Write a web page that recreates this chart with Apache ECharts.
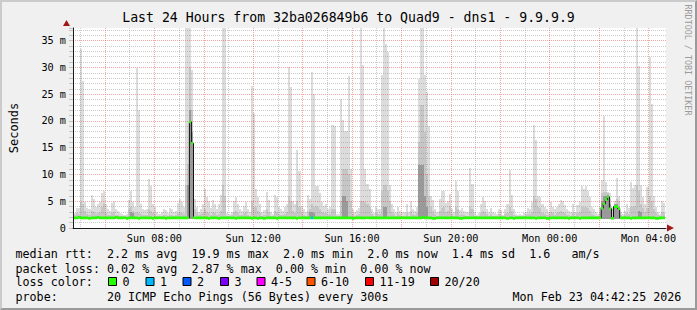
<!DOCTYPE html>
<html>
<head>
<meta charset="utf-8">
<script src="https://cdn.jsdelivr.net/npm/echarts@6/dist/echarts.min.js"></script>
<style>
html,body{margin:0;padding:0;background:#f0f0f0;}
#wrap{position:relative;width:697px;height:310px;overflow:hidden;}
#chart{position:absolute;left:0;top:0;width:697px;height:310px;}
#frame{position:absolute;left:0;top:0;width:697px;height:310px;box-sizing:border-box;border-style:solid;border-width:2px;border-color:#cbcbcb #9a9a9a #9a9a9a #cbcbcb;pointer-events:none;}
</style>
</head>
<body>
<div id="wrap"><div id="chart"></div><div id="frame"></div></div>
<script>
// ---------------- data (hours since Sun 00:00; values in ms) ----------------
const START_H = 4 + 42/60 + 25/3600;      // Sun 04:42:25
const END_H = START_H + 24;               // Mon 04:42:25
const BIN0_H = 4.75;                       // first 5-minute step, Sun 04:45
const BIN_H = 5/60;                        // 300 s step
const Y_MAX = 37.36;
const SMOKE_MIN = 1.75;

const X_LABEL_HOURS = [8, 12, 16, 20, 24, 28];
const X_LABELS = ['Sun 08:00', 'Sun 12:00', 'Sun 16:00', 'Sun 20:00', 'Mon 00:00', 'Mon 04:00'];
const GRID_HOURS = [5,6,7,8,9,10,11,12,13,14,15,16,17,18,19,20,21,22,23,24,25,26,27,28];

// max ping of each step (outer smoke)
const MAX_RTT = [
 2.8, 3.7, 3.7, 33.4, 27.4, 4.8, 3.7, 3.5, 6.1, 5.5, 4.0, 4.5,
 4.8, 6.5, 7.0, 4.5, 3.5, 3.2, 4.6, 5.0, 3.5, 3.2, 2.8, 2.6,
 2.5, 2.7, 5.2, 6.9, 4.8, 4.0, 29.9, 22.0, 4.4, 3.6, 3.3, 3.5,
 9.1, 7.8, 4.5, 4.0, 3.0, 2.6, 2.9, 3.5, 3.4, 2.8, 3.7, 3.5,
 3.0, 3.2, 4.6, 5.5, 4.8, 4.0, 37.4, 37.4, 37.4, 29.5, 5.5, 4.0,
 3.0, 3.5, 4.5, 7.3, 5.8, 5.0, 3.8, 5.2, 4.5, 3.6, 4.4, 6.2,
 37.4, 37.4, 2.8, 2.6, 3.0, 5.0, 5.7, 4.5, 3.6, 3.2, 4.2, 4.8,
 3.5, 3.0, 26.6, 21.5, 7.3, 5.8, 4.5, 3.0, 3.4, 6.7, 5.2, 3.0,
 2.7, 6.1, 5.7, 3.9, 3.5, 3.2, 4.0, 4.5, 30.1, 26.3, 5.0, 4.5,
 14.5, 10.6, 4.2, 3.5, 3.0, 6.1, 5.5, 29.1, 25.1, 7.9, 7.9, 6.5,
 4.8, 4.2, 4.5, 3.5, 4.0, 19.3, 19.0, 2.6, 2.7, 24.1, 20.1, 18.2,
 18.2, 28.4, 11.0, 3.6, 3.0, 3.4, 3.8, 37.4, 30.4, 11.0, 8.3, 7.2,
 3.5, 2.8, 4.0, 3.5, 3.5, 28.6, 37.4, 34.3, 32.9, 8.0, 4.5, 3.5,
 3.0, 4.0, 3.2, 3.0, 3.0, 4.5, 3.0, 5.0, 3.5, 3.2, 4.0, 27.9,
 37.4, 37.4, 28.5, 25.4, 19.0, 6.0, 5.2, 3.5, 3.0, 5.5, 6.9, 7.0,
 4.6, 5.0, 6.4, 3.5, 3.0, 8.7, 7.0, 3.4, 3.8, 3.2, 3.0, 3.0,
 11.2, 8.3, 2.9, 2.5, 2.8, 4.5, 5.8, 5.0, 3.5, 3.0, 3.7, 3.0,
 2.8, 2.6, 3.6, 3.4, 2.5, 3.5, 4.5, 10.8, 6.2, 3.5, 2.6, 2.5,
 2.6, 2.5, 2.8, 3.0, 3.7, 3.6, 4.8, 19.3, 16.5, 6.0, 5.8, 4.5,
 3.9, 3.5, 3.0, 4.8, 4.0, 3.5, 4.0, 4.5, 5.2, 5.0, 4.3, 3.5,
 3.2, 3.0, 4.5, 3.0, 4.3, 4.8, 7.9, 7.2, 7.8, 7.0, 5.8, 3.9,
 3.5, 3.0, 2.6, 4.0, 8.9, 21.0, 8.5, 6.7, 6.5, 4.0, 5.0, 9.3,
 6.0, 3.0, 2.6, 3.2, 4.5, 3.8, 8.6, 7.5, 8.0, 37.4, 30.3, 8.0,
 5.8, 4.5, 7.6, 31.9, 23.2, 6.0, 4.0, 3.0, 2.6, 5.1, 4.6
];

// inner smoke band (most pings below this)
const MID_RTT = [
 2.4, 2.8, 2.6, 4.8, 4.5, 3.2, 2.6, 2.5, 3.2, 3.0, 2.6, 2.8,
 3.0, 4.0, 4.7, 2.8, 2.5, 2.4, 2.8, 3.0, 2.5, 2.4, 2.3, 2.3,
 2.2, 2.3, 3.5, 4.0, 3.2, 2.8, 3.0, 2.8, 2.6, 2.5, 2.4, 2.4,
 3.5, 3.2, 2.8, 2.6, 2.3, 2.2, 2.3, 2.5, 2.5, 2.3, 2.5, 2.5,
 2.3, 2.4, 2.8, 3.0, 2.8, 2.6, 8.0, 12.0, 30.0, 22.0, 3.5, 2.8,
 2.4, 2.6, 2.8, 3.5, 3.0, 2.8, 2.5, 3.0, 2.8, 2.5, 2.7, 3.2,
 8.0, 6.0, 2.3, 2.2, 2.4, 3.0, 3.2, 2.8, 2.5, 2.4, 2.8, 3.0,
 2.5, 2.3, 5.0, 4.0, 4.0, 3.2, 2.8, 2.3, 2.5, 3.5, 3.0, 2.3,
 2.2, 3.2, 3.0, 2.6, 2.5, 2.4, 2.6, 3.0, 6.0, 5.0, 3.2, 2.8,
 5.0, 4.0, 2.8, 2.5, 2.3, 3.2, 3.5, 4.5, 4.0, 4.2, 4.0, 3.5,
 3.0, 2.8, 2.8, 2.5, 2.6, 3.5, 3.5, 2.2, 2.2, 5.0, 11.0, 11.0,
 11.0, 10.0, 5.0, 2.6, 2.3, 2.5, 2.6, 5.0, 5.0, 4.8, 4.5, 4.0,
 2.6, 2.3, 2.8, 2.6, 2.6, 7.0, 8.0, 8.0, 7.0, 5.0, 3.0, 2.6,
 2.3, 2.8, 2.4, 2.3, 2.3, 2.8, 2.3, 3.2, 2.6, 2.4, 2.8, 16.0,
 22.9, 22.9, 18.0, 10.0, 6.0, 4.0, 3.2, 2.6, 2.3, 3.2, 3.8, 4.0,
 3.0, 3.2, 4.2, 2.6, 2.3, 4.0, 3.5, 2.5, 2.7, 2.4, 2.3, 2.3,
 4.0, 3.5, 2.3, 2.2, 2.3, 2.8, 3.2, 3.0, 2.6, 2.3, 2.7, 2.3,
 2.3, 2.2, 2.6, 2.5, 2.2, 2.6, 2.8, 4.0, 3.2, 2.5, 2.2, 2.2,
 2.2, 2.2, 2.3, 2.4, 2.7, 2.6, 3.0, 6.0, 5.5, 4.0, 3.8, 2.8,
 2.7, 2.5, 2.4, 3.0, 2.8, 2.5, 2.8, 3.0, 3.2, 3.0, 2.8, 2.5,
 2.4, 2.3, 2.8, 2.3, 2.8, 3.0, 4.0, 4.0, 4.0, 3.8, 3.2, 2.7,
 2.5, 2.3, 2.2, 3.0, 6.5, 6.7, 6.7, 6.5, 5.5, 3.5, 4.5, 5.5,
 5.0, 2.4, 2.2, 2.4, 2.8, 2.6, 4.0, 4.0, 4.2, 8.0, 7.0, 4.5,
 3.8, 3.0, 3.8, 6.0, 5.0, 3.5, 2.8, 2.4, 2.2, 3.0, 2.8
];

// dense core of the smoke (0 = none)
const CORE_RTT = [
 0,0,0,0,0,0,0,0,0,0,0,0,
 0,0,0,0,0,0,0,0,0,0,0,0,
 0,0,0,3.0,2.8,0,0,0,0,0,0,0,
 0,0,0,0,0,0,0,0,0,0,0,0,
 0,0,0,0,0,0,0,8.0,22.0,18.0,0,0,
 0,0,0,0,0,0,0,0,0,0,0,0,
 0,0,0,0,0,0,0,0,0,0,0,0,
 0,0,0,0,0,0,0,0,0,0,0,0,
 0,0,0,0,0,0,0,0,0,0,0,0,
 0,0,0,0,0,0,3.0,3.0,2.8,0,0,0,
 0,0,0,0,0,0,0,0,0,0,6.0,6.0,
 5.0,0,0,0,0,0,0,0,0,0,0,0,
 0,0,0,0,0,0,4.0,4.0,0,0,0,0,
 0,0,0,0,0,0,0,0,0,0,0,11.7,
 11.7,11.7,6.0,4.0,0,0,0,0,0,0,0,0,
 0,0,0,0,0,0,0,0,0,0,0,0,
 0,0,0,0,0,0,0,0,0,0,0,0,
 0,0,0,0,0,0,0,0,0,0,0,0,
 0,0,0,0,0,0,0,0,0,0,0,0,
 0,0,0,0,0,0,0,0,0,0,0,0,
 0,0,0,0,0,0,0,0,0,0,0,0,
 0,0,0,0,5.0,6.0,6.0,6.2,4.5,0,4.5,4.5,
 4.0,0,0,0,0,0,0,0,0,0,3.2,3.0,
 0,0,0,0,0,0,0,0,0,0,0
];

// median rtt of each step
const MEDIAN_RTT = [
 1.9,1.9,2.0,1.9,1.9,1.9,1.9,1.8,1.9,1.9,1.9,2.0,
 1.9,1.9,1.9,1.9,1.9,1.9,1.9,1.9,2.0,1.9,1.9,1.9,
 1.9,1.8,1.9,1.9,1.9,1.9,1.9,1.8,1.9,1.9,1.9,1.9,
 1.9,1.9,1.8,1.9,1.9,1.9,1.9,1.9,1.8,1.9,1.9,1.9,
 1.9,1.9,1.9,1.9,1.9,1.9,1.9,1.9,19.8,15.8,1.9,1.9,
 1.9,1.9,1.9,1.9,1.9,1.8,1.9,1.9,1.9,1.9,1.8,1.9,
 1.9,1.9,1.9,1.9,1.9,1.9,1.8,1.9,1.9,1.9,1.9,1.9,
 1.9,1.9,1.8,1.9,1.9,1.8,1.9,1.9,1.8,1.9,1.9,1.9,
 1.9,1.9,1.8,1.9,1.9,1.9,1.9,1.9,1.9,1.9,1.9,1.9,
 1.8,1.9,1.9,1.9,1.9,1.9,1.9,1.9,1.9,1.9,1.9,1.9,
 1.9,1.9,1.9,1.9,1.9,1.9,1.9,1.9,1.9,1.9,1.9,1.9,
 1.9,1.9,1.9,1.8,1.9,1.9,1.9,1.9,1.9,1.9,1.9,1.9,
 1.9,1.9,1.9,1.9,1.9,1.9,1.9,1.9,1.9,1.9,1.9,1.9,
 1.9,1.9,1.9,1.9,1.9,1.9,1.9,1.9,1.9,1.9,1.9,1.9,
 1.9,2.0,1.9,1.9,1.9,1.9,1.8,1.8,1.9,1.9,1.9,1.9,
 1.9,1.9,1.9,1.9,1.9,1.9,1.9,1.8,1.8,1.9,1.9,1.9,
 1.9,1.9,1.9,1.9,1.9,1.9,1.9,1.9,1.9,1.9,1.9,1.9,
 1.9,1.9,1.9,1.9,1.9,1.9,1.8,1.9,1.9,1.8,1.9,1.9,
 1.9,1.9,1.9,1.9,1.9,1.9,1.9,1.9,1.8,1.9,1.9,1.9,
 1.9,1.8,1.8,1.9,1.9,1.9,1.9,1.9,1.9,1.9,1.9,1.9,
 1.8,1.9,1.9,1.9,1.9,1.8,1.9,1.9,1.9,1.9,1.9,1.9,
 1.9,1.9,1.9,1.9,3.7,4.5,5.3,5.8,3.6,1.8,4.0,4.0,
 3.6,1.9,1.9,1.9,1.9,1.9,1.8,1.9,1.9,1.9,1.9,1.9,
 1.9,1.9,1.9,1.9,1.9,1.9,1.8,1.8,1.9,1.9,1.9
];

// steps with lost pings: step index and number of lost pings
const LOSS_STEP = [115];
const LOSS_PINGS = [1];

// loss colour legend
const LOSS_LABELS = ['0', '1', '2', '3', '4-5', '6-10', '11-19', '20/20'];
const LOSS_MAXPINGS = [0, 1, 2, 3, 5, 10, 19, 20];
const LOSS_COLORS = ['#26ff00', '#00b8ff', '#0059ff', '#7e00ff', '#ff00ff', '#ff5500', '#ff0000', '#a10000'];

const LEGEND_RTT = 'median rtt:  2.2 ms avg  19.9 ms max  2.0 ms min  2.0 ms now  1.4 ms sd  1.6   am/s';
const LEGEND_LOSS = 'packet loss: 0.02 % avg  2.87 % max  0.00 % min  0.00 % now';
const LEGEND_PROBE = 'probe:       20 ICMP Echo Pings (56 Bytes) every 300s';
const STAMP = 'Mon Feb 23 04:42:25 2026';
const TITLE = 'Last 24 Hours from 32ba026849b6 to Quad9 - dns1 - 9.9.9.9';

// ---------------- styles ----------------
const FONT = '"DejaVu Sans Mono", monospace';
const GRID_MINOR = 'rgba(140,140,140,0.45)';
const GRID_MAJOR = 'rgba(235,40,40,0.42)';
const AXIS_COLOR = '#1a1a1a';
const ARROW_COLOR = '#a01818';
const SMOKE_SHADES = ['#dcdcdc', '#c6c6c6', '#9a9a9a'];

// ---------------- build ----------------
const N = MAX_RTT.length;
const stepStart = j => BIN0_H + j * BIN_H;
const smokeData = MAX_RTT.map((m, j) => [stepStart(j), SMOKE_MIN, m, MID_RTT[j], CORE_RTT[j]]);
const lossOf = j => { const k = LOSS_STEP.indexOf(j); return k < 0 ? 0 : LOSS_PINGS[k]; };
const lossColor = n => { for (let k = 0; k < LOSS_MAXPINGS.length; k++) if (n <= LOSS_MAXPINGS[k]) return LOSS_COLORS[k]; return LOSS_COLORS[LOSS_COLORS.length - 1]; };
const medianData = MEDIAN_RTT.map((m, j) => [stepStart(j), m, lossOf(j)]);
const medianLine = MEDIAN_RTT.map((m, j) => [stepStart(j), m]).concat([[stepStart(N), MEDIAN_RTT[N - 1]]]);

function smokeItem(params, api) {
  const t0 = api.value(0), t1 = t0 + BIN_H, lo = api.value(1);
  const kids = [];
  for (let k = 0; k < 3; k++) {
    const hi = Math.min(api.value(2 + k), Y_MAX);
    if (!(hi > lo)) continue;
    const a = api.coord([t0, hi]), b = api.coord([t1, lo]);
    const x0 = Math.round(a[0]), x1 = Math.round(b[0]);
    const y0 = Math.round(a[1]), y1 = Math.round(b[1]);
    kids.push({type: 'rect', shape: {x: x0, y: y0, width: x1 - x0, height: y1 - y0}, style: {fill: SMOKE_SHADES[k]}});
  }
  return {type: 'group', children: kids};
}
function medianItem(params, api) {
  const t0 = api.value(0), t1 = t0 + BIN_H;
  const a = api.coord([t0, api.value(1)]), b = api.coord([t1, api.value(1)]);
  const x0 = Math.round(a[0]), x1 = Math.round(b[0]);
  return {type: 'rect', shape: {x: x0, y: a[1] - 1.3, width: x1 - x0, height: 2.6}, style: {fill: lossColor(api.value(2))}};
}

const gfx = [];
const LEG_X = 15.5;
gfx.push({type: 'text', x: LEG_X, y: 254, style: {text: LEGEND_RTT, font: '11.7px ' + FONT, fill: '#000', verticalAlign: 'middle'}});
gfx.push({type: 'text', x: LEG_X, y: 268.5, style: {text: LEGEND_LOSS, font: '11.7px ' + FONT, fill: '#000', verticalAlign: 'middle'}});
gfx.push({type: 'text', x: LEG_X, y: 282.3, style: {text: 'loss color:', font: '11.7px ' + FONT, fill: '#000', verticalAlign: 'middle'}});
gfx.push({type: 'text', x: LEG_X, y: 296.6, style: {text: LEGEND_PROBE, font: '11.7px ' + FONT, fill: '#000', verticalAlign: 'middle'}});
gfx.push({type: 'text', x: 512.5, y: 296.6, style: {text: STAMP, font: '11.7px ' + FONT, fill: '#000', verticalAlign: 'middle'}});
const SWATCH_X = [108, 145.5, 182.5, 220, 256.5, 306.5, 365, 430];
LOSS_LABELS.forEach((lab, k) => {
  gfx.push({type: 'rect', shape: {x: SWATCH_X[k] + 0.5, y: 277.5, width: 8, height: 8}, style: {fill: LOSS_COLORS[k], stroke: '#000', lineWidth: 1}});
  gfx.push({type: 'text', x: SWATCH_X[k] + 14.5, y: 282.3, style: {text: lab, font: '11.7px ' + FONT, fill: '#000', verticalAlign: 'middle'}});
});
gfx.push({type: 'text', x: 688, y: 60, rotation: -Math.PI / 2, style: {text: 'RRDTOOL / TOBI OETIKER', font: '8.4px ' + FONT, fill: '#9a9a9a', align: 'center', verticalAlign: 'middle'}});
gfx.push({type: 'polygon', shape: {points: [[63, 26], [70, 26], [66.5, 20]]}, style: {fill: ARROW_COLOR}});
gfx.push({type: 'polygon', shape: {points: [[667, 224.5], [667, 231.5], [674, 228]]}, style: {fill: ARROW_COLOR}});

const chart = echarts.init(document.getElementById('chart'), null, {renderer: 'svg', width: 697, height: 310});
chart.setOption({
  animation: false,
  backgroundColor: '#f0f0f0',
  title: {text: TITLE, left: 'center', top: 11, padding: 0, textStyle: {fontFamily: FONT, fontSize: 13.2, fontWeight: 'normal', color: '#000'}},
  grid: {left: 66, top: 28, width: 600, height: 200, show: true, backgroundColor: '#ffffff', borderWidth: 0, containLabel: false},
  xAxis: {
    type: 'value', min: START_H, max: END_H, z: 3,
    axisLine: {show: true, lineStyle: {color: AXIS_COLOR, width: 1}},
    axisTick: {show: false, customValues: GRID_HOURS},
    axisLabel: {customValues: X_LABEL_HOURS, formatter: v => X_LABELS[X_LABEL_HOURS.indexOf(Math.round(v))] || '', fontFamily: FONT, fontSize: 10.2, color: '#000', margin: 5},
    splitLine: {show: true, lineStyle: {color: [GRID_MINOR, GRID_MAJOR], type: [1, 1], width: 1}}
  },
  yAxis: {
    type: 'value', min: 0, max: Y_MAX, interval: 1, z: 3,
    name: 'Seconds', nameLocation: 'middle', nameRotate: 90, nameGap: 53,
    nameTextStyle: {fontFamily: FONT, fontSize: 12, color: '#000'},
    axisLine: {show: true, lineStyle: {color: AXIS_COLOR, width: 1}},
    axisTick: {show: true, length: 4, lineStyle: {color: GRID_MINOR}},
    axisLabel: {formatter: v => (Math.abs(v % 5) < 1e-9 ? (v === 0 ? '0' : v + ' m') : ''), fontFamily: FONT, fontSize: 10.2, color: '#000', margin: 7},
    splitLine: {show: true, showMaxLine: false, lineStyle: {color: [GRID_MAJOR, GRID_MINOR, GRID_MINOR, GRID_MINOR, GRID_MINOR], type: [1, 1], width: 1}}
  },
  series: [
    {type: 'custom', name: 'smoke', renderItem: smokeItem, data: smokeData, encode: {x: 0, y: [1, 2, 3, 4]}, z: 2, clip: true, silent: true},
    {type: 'line', name: 'median', data: medianLine, step: 'end', symbol: 'none', showSymbol: false, lineStyle: {color: '#111', width: 1}, z: 4, silent: true},
    {type: 'custom', name: 'median loss', renderItem: medianItem, data: medianData, encode: {x: 0, y: 1}, z: 5, clip: true, silent: true}
  ],
  graphic: gfx
});
</script>
</body>
</html>
